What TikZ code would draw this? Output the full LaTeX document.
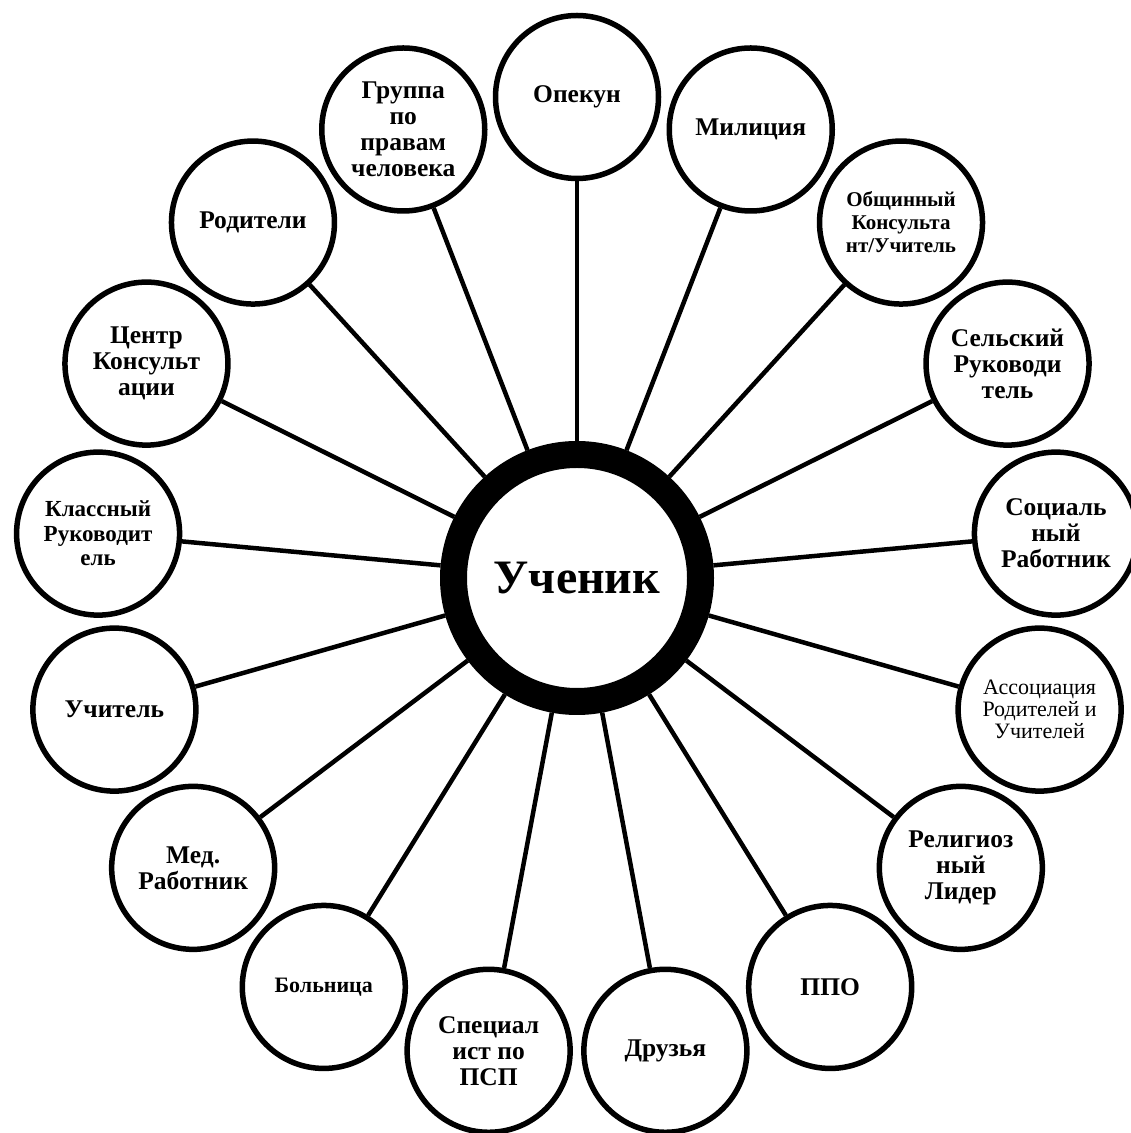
\documentclass[tikz,border=0pt]{standalone}
\usepackage{fontspec}
\setmainfont{Liberation Serif}
\usetikzlibrary{calc}
\begin{document}
\begin{tikzpicture}[x=1pt,y=1pt,
  sat/.style={circle,draw,line width=5.5pt,fill=white,minimum size=163pt,inner sep=0pt,align=center,font=\bfseries\fontsize{25.5}{26}\selectfont},
  smallb/.style={font=\bfseries\fontsize{21}{23}\selectfont},
  smallr/.style={font=\fontsize{22}{22}\selectfont},
  hospb/.style={font=\bfseries\fontsize{22}{24}\selectfont},
  midb/.style={font=\bfseries\fontsize{23}{24.5}\selectfont},
  hub/.style={circle,draw,line width=27pt,fill=white,minimum size=247pt,inner sep=0pt,font=\bfseries\fontsize{48}{56}\selectfont},
  conn/.style={line width=4.5pt}]
\useasboundingbox (0,0) rectangle (1131,1133);
\coordinate (c) at (577,555);
\node[hub] (ctr) at (c) {Ученик};
\node[sat] (op)  at ($(c)+({90-0*360/17}:481)$) {Опекун};
\node[sat] (mil) at ($(c)+({90-1*360/17}:481)$) {Милиция};
\node[sat,smallb] (obs) at ($(c)+({90-2*360/17}:481)$) {Общинный\\Консульта\\нт/Учитель};
\node[sat] (sel) at ($(c)+({90-3*360/17}:481)$) {Сельский\\Руководи\\тель};
\node[sat] (soc) at ($(c)+({90-4*360/17}:481)$) {Социаль\\ный\\Работник};
\node[sat,smallr] (asc) at ($(c)+({90-5*360/17}:481)$) {Ассоциация\\Родителей и\\Учителей};
\node[sat] (rel) at ($(c)+({90-6*360/17}:481)$) {Религиоз\\ный\\Лидер};
\node[sat] (ppo) at ($(c)+({90-7*360/17}:481)$) {ППО};
\node[sat] (dru) at ($(c)+({90-8*360/17}:481)$) {Друзья};
\node[sat] (spe) at ($(c)+({90-9*360/17}:481)$) {Специал\\ист по\\ПСП};
\node[sat,hospb] (bol) at ($(c)+({90-10*360/17}:481)$) {Больница};
\node[sat] (med) at ($(c)+({90-11*360/17}:481)$) {Мед.\\Работник};
\node[sat] (uch) at ($(c)+({90-12*360/17}:481)$) {Учитель};
\node[sat,midb] (kla) at ($(c)+({90-13*360/17}:481)$) {Классный\\Руководит\\ель};
\node[sat] (cen) at ($(c)+({90-14*360/17}:481)$) {Центр\\Консульт\\ации};
\node[sat] (rod) at ($(c)+({90-15*360/17}:481)$) {Родители};
\node[sat] (grp) at ($(c)+({90-16*360/17}:481)$) {Группа\\по\\правам\\человека};
\foreach \n in {op,mil,obs,sel,soc,asc,rel,ppo,dru,spe,bol,med,uch,kla,cen,rod,grp}
  \draw[conn] (\n) -- (ctr);
\end{tikzpicture}
\end{document}
